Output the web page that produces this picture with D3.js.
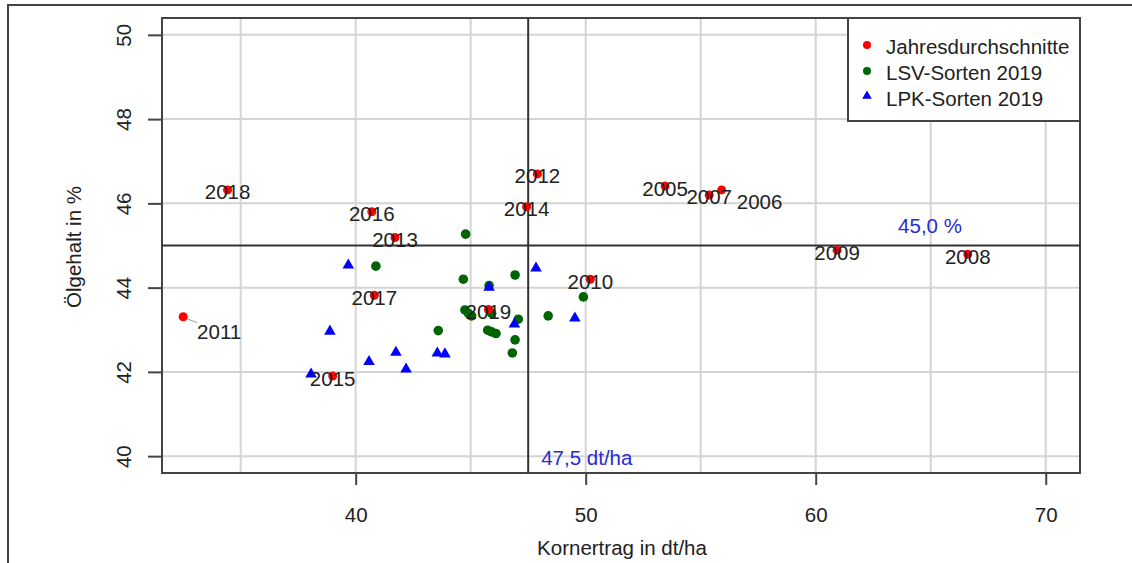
<!DOCTYPE html>
<html>
<head>
<meta charset="utf-8">
<script src="https://cdn.jsdelivr.net/npm/d3@7"></script>
<style>
  body { margin: 0; background: #fff; }
  text { font-family: "Liberation Sans", Arial, sans-serif; }
</style>
</head>
<body>
<div class="container"></div>
<script>
const WIDTH = 1132;
const HEIGHT = 563;

// Jahresdurchschnitte (years)
var yearLabels = ["2005","2006","2007","2008","2009","2010","2011","2012","2013","2014","2015","2016","2017","2018","2019"];
var yearYield  = [53.45, 55.91, 55.37, 66.61, 60.93, 50.20, 32.50, 47.90, 41.71, 47.43, 39.00, 40.70, 40.81, 34.43, 45.77];
var yearOil    = [46.41, 46.32, 46.20, 44.79, 44.89, 44.20, 43.31, 46.70, 45.19, 45.92, 41.90, 45.80, 43.82, 46.32, 43.48];

// LSV-Sorten 2019
var lsvYield = [44.78, 40.88, 44.68, 46.93, 49.90, 44.75, 44.90, 45.04, 45.91, 47.07, 48.37, 43.59, 45.74, 45.91, 46.10, 46.93, 46.81, 45.80];
var lsvOil   = [45.27, 44.51, 44.20, 44.30, 43.78, 43.47, 43.39, 43.33, 43.39, 43.25, 43.33, 42.98, 42.99, 42.95, 42.91, 42.76, 42.45, 44.05];

// LPK-Sorten 2019
var lpkYield = [39.68, 47.84, 45.80, 49.53, 46.90, 38.88, 41.75, 43.55, 43.88, 40.58, 42.19, 38.06];
var lpkOil   = [44.51, 44.44, 43.98, 43.25, 43.11, 42.94, 42.44, 42.42, 42.40, 42.22, 42.04, 41.92];

var xTicks = [40, 50, 60, 70];
var yTicks = [40, 42, 44, 46, 48, 50];
var xGrid = [35, 40, 45, 50, 55, 60, 65, 70];
var yGrid = [40, 42, 44, 46, 48, 50];

var refYield = 47.5;
var refOil = 45.0;

var legendNames = ["Jahresdurchschnitte", "LSV-Sorten 2019", "LPK-Sorten 2019"];

// labels that are pushed away from their point
var labelShift = { "2011": [36, 13], "2006": [38, 10] };

var plot = { left: 162, right: 1080, top: 18, bottom: 473 };
var svg, x, y;

var draw = function(){
    svg = d3.select(".container").append("svg")
        .attr("width", WIDTH)
        .attr("height", HEIGHT);

    x = d3.scaleLinear().domain([31.58, 71.49]).range([plot.left, plot.right]);
    y = d3.scaleLinear().domain([39.6, 50.4]).range([plot.bottom, plot.top]);

    // outer frame (only top and left visible)
    svg.append("path")
        .attr("d", "M8,563 L8,5 L1132,5")
        .attr("fill", "none")
        .attr("stroke", "#444")
        .attr("stroke-width", 2);

    drawGrid();
    drawAxes();
    drawRefLines();
    drawPoints();
    drawLegend();
}

var drawGrid = function(){
    var g = svg.append("g");
    g.selectAll(".vg").data(xGrid).enter().append("line")
        .attr("x1", d => x(d)).attr("x2", d => x(d))
        .attr("y1", plot.top).attr("y2", plot.bottom)
        .attr("stroke", "#d4d4d4").attr("stroke-width", 2);
    g.selectAll(".hg").data(yGrid).enter().append("line")
        .attr("y1", d => y(d)).attr("y2", d => y(d))
        .attr("x1", plot.left).attr("x2", plot.right)
        .attr("stroke", "#d4d4d4").attr("stroke-width", 2);
}

var drawAxes = function(){
    var xa = svg.append("g")
        .attr("transform", "translate(0," + plot.bottom + ")")
        .call(d3.axisBottom(x).tickValues(xTicks).tickSize(12).tickPadding(22).tickSizeOuter(0));
    xa.select(".domain").remove();
    xa.selectAll("line").attr("stroke", "#444").attr("stroke-width", 2);
    xa.selectAll("text").attr("font-size", 20.5).attr("fill", "#222");

    var ya = svg.append("g")
        .attr("transform", "translate(" + plot.left + ",0)")
        .call(d3.axisLeft(y).tickValues(yTicks).tickSize(14).tickSizeOuter(0));
    ya.select(".domain").remove();
    ya.selectAll("line").attr("stroke", "#444").attr("stroke-width", 2);
    ya.selectAll("text")
        .attr("font-size", 20.5).attr("fill", "#222")
        .attr("x", 0).attr("dy", null)
        .attr("text-anchor", "middle")
        .attr("dominant-baseline", "central")
        .attr("transform", "translate(-39,0) rotate(-90)");

    // plot box
    svg.append("rect")
        .attr("x", plot.left).attr("y", plot.top)
        .attr("width", plot.right - plot.left)
        .attr("height", plot.bottom - plot.top)
        .attr("fill", "none")
        .attr("stroke", "#444")
        .attr("stroke-width", 2);

    svg.append("text")
        .attr("x", (plot.left + plot.right) / 2 + 1)
        .attr("y", 547)
        .attr("text-anchor", "middle")
        .attr("dominant-baseline", "central")
        .attr("font-size", 20.5)
        .attr("fill", "#222")
        .text("Kornertrag in dt/ha");

    svg.append("text")
        .attr("transform", "translate(73,247) rotate(-90)")
        .attr("text-anchor", "middle")
        .attr("dominant-baseline", "central")
        .attr("font-size", 20.5)
        .attr("fill", "#222")
        .text("Ölgehalt in %");
}

var drawRefLines = function(){
    svg.append("line")
        .attr("x1", x(refYield)).attr("x2", x(refYield))
        .attr("y1", plot.top).attr("y2", plot.bottom)
        .attr("stroke", "#333").attr("stroke-width", 2);
    svg.append("line")
        .attr("x1", plot.left).attr("x2", plot.right)
        .attr("y1", y(refOil)).attr("y2", y(refOil))
        .attr("stroke", "#333").attr("stroke-width", 2);

    svg.append("text")
        .attr("x", 930).attr("y", y(refOil) - 20)
        .attr("text-anchor", "middle")
        .attr("dominant-baseline", "central")
        .attr("font-size", 20.5)
        .attr("fill", "#2b2bd0")
        .text("45,0 %");
    svg.append("text")
        .attr("x", x(refYield) + 13).attr("y", y(40) + 1)
        .attr("dominant-baseline", "central")
        .attr("font-size", 20.5)
        .attr("fill", "#2b2bd0")
        .text("47,5 dt/ha");
}

var drawPoints = function(){
    var years = yearLabels.map((l, i) => ({ label: l, x: yearYield[i], y: yearOil[i] }));
    var lsv = lsvYield.map((v, i) => ({ x: v, y: lsvOil[i] }));
    var lpk = lpkYield.map((v, i) => ({ x: v, y: lpkOil[i] }));

    svg.append("g").selectAll("circle").data(lsv).enter().append("circle")
        .attr("cx", d => x(d.x)).attr("cy", d => y(d.y))
        .attr("r", 4.8)
        .attr("fill", "#006400");

    svg.append("g").selectAll("path").data(lpk).enter().append("path")
        .attr("d", d3.symbol().type(d3.symbolTriangle).size(58))
        .attr("transform", d => "translate(" + x(d.x) + "," + (y(d.y) - 1) + ")")
        .attr("fill", "#0000ff");

    // leader line for the shifted 2011 label
    var p11 = years.find(d => d.label == "2011");
    svg.append("line")
        .attr("x1", x(p11.x) + 4).attr("y1", y(p11.y) + 2)
        .attr("x2", x(p11.x) + 14).attr("y2", y(p11.y) + 6)
        .attr("stroke", "#999").attr("stroke-width", 1);

    svg.append("g").selectAll("circle").data(years).enter().append("circle")
        .attr("cx", d => x(d.x)).attr("cy", d => y(d.y))
        .attr("r", 4.5)
        .attr("fill", "#ff0000");

    svg.append("g").selectAll("text").data(years).enter().append("text")
        .attr("x", d => x(d.x) + (labelShift[d.label] ? labelShift[d.label][0] : 0))
        .attr("y", d => y(d.y) + 2 + (labelShift[d.label] ? labelShift[d.label][1] : 0))
        .attr("text-anchor", "middle")
        .attr("dominant-baseline", "central")
        .attr("font-size", 20.5)
        .attr("fill", "#222")
        .text(d => d.label);
}

var drawLegend = function(){
    var lg = svg.append("g");
    lg.append("rect")
        .attr("x", 848).attr("y", plot.top)
        .attr("width", plot.right - 848).attr("height", 103)
        .attr("fill", "#fff")
        .attr("stroke", "#444")
        .attr("stroke-width", 2);

    var rows = [45, 71, 97];
    lg.append("circle").attr("cx", 867).attr("cy", rows[0]).attr("r", 4).attr("fill", "#ff0000");
    lg.append("circle").attr("cx", 867).attr("cy", rows[1]).attr("r", 4).attr("fill", "#006400");
    lg.append("path")
        .attr("d", d3.symbol().type(d3.symbolTriangle).size(40))
        .attr("transform", "translate(867," + (rows[2] - 1) + ")")
        .attr("fill", "#0000ff");

    lg.selectAll("text").data(legendNames).enter().append("text")
        .attr("x", 886)
        .attr("y", (d, i) => rows[i] + 1)
        .attr("dominant-baseline", "central")
        .attr("font-size", 20.5)
        .attr("fill", "#222")
        .text(d => d);
}

window.onload = draw;
</script>
</body>
</html>
